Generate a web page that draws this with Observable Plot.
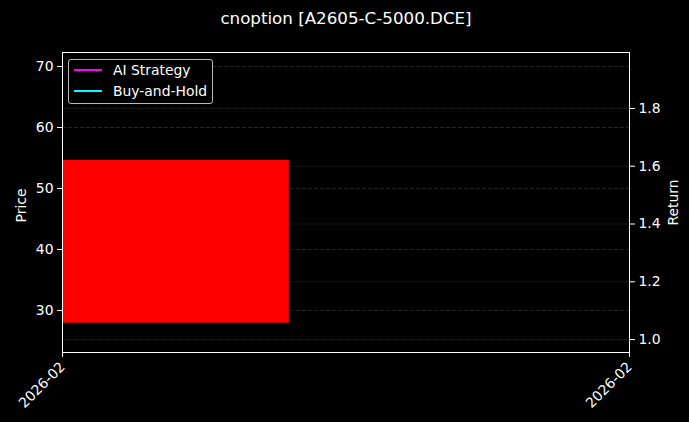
<!DOCTYPE html>
<html>
<head>
<meta charset="utf-8">
<script src="https://cdn.jsdelivr.net/npm/d3@7"></script>
<script src="https://cdn.jsdelivr.net/npm/@observablehq/plot@0.6"></script>
<style>
  html, body { margin: 0; padding: 0; background: #000; }
  #wrap { position: relative; width: 689px; height: 422px; font-family: "DejaVu Sans", sans-serif; }
  #legend { position: absolute; left: 68px; top: 59px; width: 145px; height: 45px; border: 1px solid #bbb; border-radius: 3px; background: #000; color: #fff; font-size: 13.9px; box-sizing: border-box; }
  .item { position: absolute; left: 5px; display: flex; align-items: center; }
  .item span.sw { display: inline-block; width: 28px; height: 2.5px; margin-right: 11px; }
</style>
</head>
<body>
<div id="wrap"></div>
<script>
// Data
const title = "cnoption [A2605-C-5000.DCE]";
const candleStart = [0];      // body start (fraction of period)
const candleEnd = [0.4];      // body end
const candleOpen = [54.6];
const candleClose = [27.9];
const xDomain = [0, 1];
const xTicks = [0, 1];
const xTickLabels = ["2026-02", "2026-02"];
const priceDomain = [23.1, 72.3];
const priceTicks = [30, 40, 50, 60, 70];
const returnDomain = [0.955, 1.994];
const returnTicks = [1.0, 1.2, 1.4, 1.6, 1.8];
const seriesNames = ["AI Strategy", "Buy-and-Hold"];
const seriesColors = ["#ff00ff", "#00ffff"];

const candles = candleStart.map((s, i) => ({s, e: candleEnd[i], o: candleOpen[i], c: candleClose[i]}));
const ret2price = d3.scaleLinear(returnDomain, priceDomain);
const price2ret = ret2price.invert;
const grid = "#2e2e2e";

const chart = Plot.plot({
  width: 689,
  height: 422,
  marginLeft: 62,
  marginRight: 60,
  marginTop: 52,
  marginBottom: 70,
  style: {background: "#000", color: "#fff", fontFamily: "DejaVu Sans", fontSize: "13.9px"},
  x: {domain: xDomain},
  y: {domain: priceDomain},
  marks: [
    Plot.gridY(priceTicks, {stroke: grid, strokeOpacity: 1, strokeDasharray: "4,2", strokeWidth: 0.8}),
    Plot.gridY(returnTicks.map(ret2price), {stroke: grid, strokeOpacity: 1, strokeDasharray: "1,1", strokeWidth: 0.8}),
    Plot.rect(candles, {x1: "s", x2: "e", y1: "o", y2: "c", fill: "#ff0000"}),
    Plot.axisY(priceTicks, {anchor: "left", tickSize: 5, tickPadding: 4, stroke: "#fff", label: null, fontSize: 13.9}),
    Plot.axisY(returnTicks.map(ret2price), {anchor: "right", tickSize: 5, tickPadding: 4, stroke: "#fff", label: null, tickFormat: d => price2ret(d).toFixed(1), fontSize: 13.9}),
    Plot.axisX(xTicks, {anchor: "bottom", tickSize: 5, tickPadding: 7, tickRotate: -45, stroke: "#fff", label: null, tickFormat: (d, i) => xTickLabels[i], fontSize: 13.9}),
    Plot.frame({stroke: "#fff", strokeWidth: 1}),
    Plot.text(["Price"], {frameAnchor: "left", dx: -41, dy: 3, rotate: -90, textAnchor: "middle", lineAnchor: "middle", text: d => d, fill: "#fff", fontSize: 13.9}),
    Plot.text(["Return"], {frameAnchor: "right", dx: 44, rotate: -90, textAnchor: "middle", lineAnchor: "middle", text: d => d, fill: "#fff", fontSize: 13.9}),
    Plot.text([title], {frameAnchor: "top", dy: -34, lineAnchor: "middle", text: d => d, fill: "#fff", fontSize: 16.7})
  ]
});

const wrap = document.getElementById("wrap");
wrap.appendChild(chart);
const legend = document.createElement("div");
legend.id = "legend";
seriesNames.forEach((n, i) => {
  const it = document.createElement("div");
  it.className = "item";
  it.style.top = (i === 0 ? 2 : 23) + "px";
  it.innerHTML = `<span class="sw" style="background:${seriesColors[i]}"></span><span>${n}</span>`;
  legend.appendChild(it);
});
wrap.appendChild(legend);
</script>
</body>
</html>
